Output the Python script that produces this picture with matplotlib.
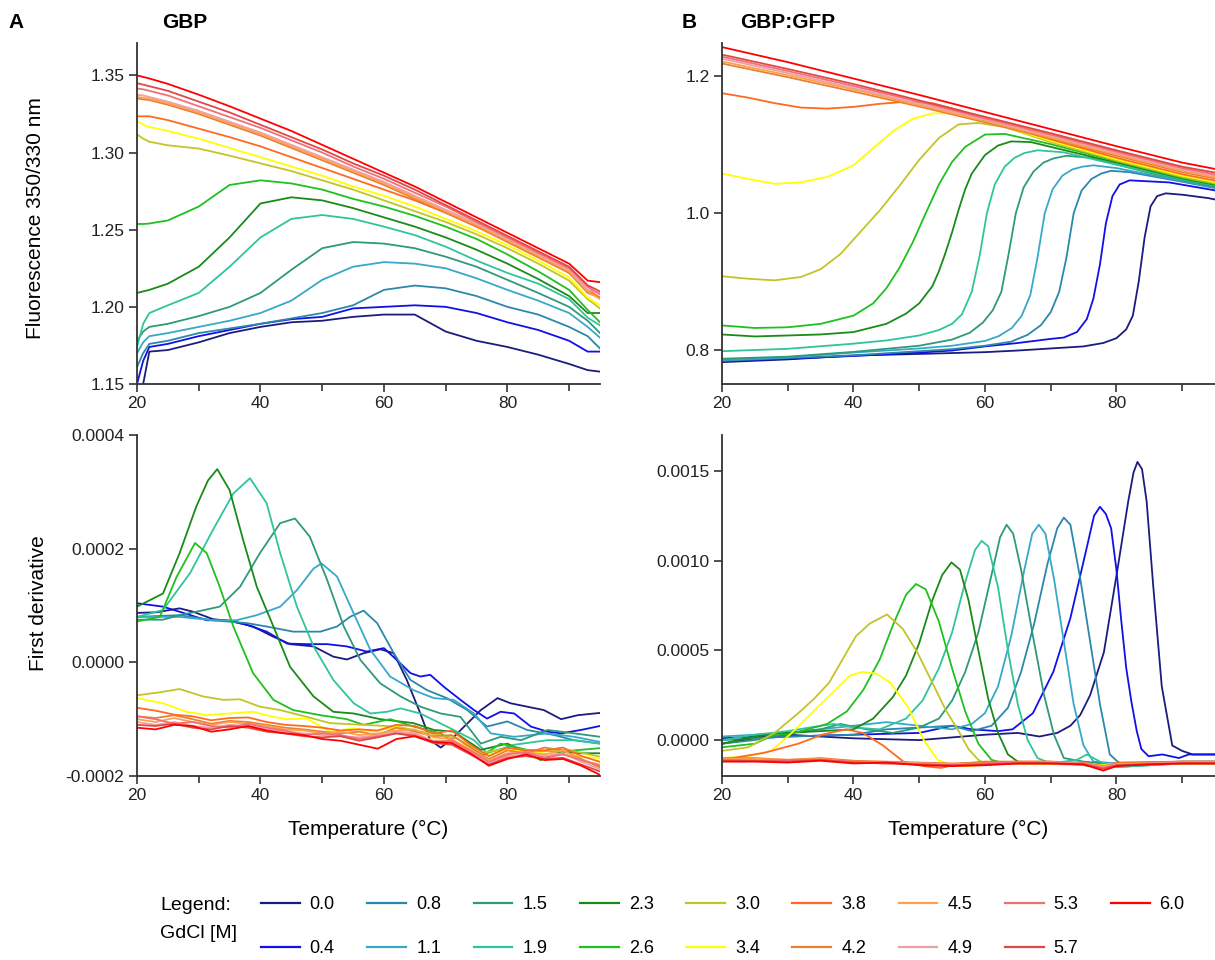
import matplotlib
matplotlib.use("Agg")
import matplotlib.pyplot as plt
from matplotlib.lines import Line2D

plt.rcParams['font.family'] = ['Liberation Sans', 'DejaVu Sans']
plt.rcParams['axes.unicode_minus'] = False

# GdCl concentrations and line colours
gdcl = ['0.0', '0.4', '0.8', '1.1', '1.5', '1.9', '2.3', '2.6', '3.0',
        '3.4', '3.8', '4.2', '4.5', '4.9', '5.3', '5.7', '6.0']
colors = ['#1b1b80', '#1010e8', '#2b88aa', '#38a8c8', '#2e9a7a', '#30c49c',
          '#1a8a1a', '#20c020', '#c4c428', '#ffff00', '#ff6a20', '#e88030',
          '#ffa050', '#f0a0a0', '#f07078', '#e04848', '#ff0000']

# ---- A, top: GBP fluorescence ratio (shared temperature grid)
gbp_temp = [20, 21, 22, 25, 30, 35, 40, 45, 50, 55, 60, 65, 70, 75, 80, 85, 90, 93, 95]
gbp_fluor = [
    [1.140, 1.150, 1.171, 1.172, 1.177, 1.183, 1.187, 1.190, 1.191, 1.1935, 1.195, 1.195, 1.184, 1.178, 1.174, 1.169, 1.163, 1.159, 1.158],
    [1.150, 1.165, 1.174, 1.176, 1.181, 1.185, 1.189, 1.192, 1.1935, 1.199, 1.200, 1.201, 1.200, 1.196, 1.190, 1.185, 1.178, 1.171, 1.171],
    [1.161, 1.170, 1.176, 1.178, 1.183, 1.186, 1.189, 1.1925, 1.196, 1.201, 1.211, 1.2138, 1.212, 1.207, 1.200, 1.195, 1.187, 1.181, 1.173],
    [1.170, 1.177, 1.181, 1.183, 1.187, 1.191, 1.196, 1.204, 1.2175, 1.226, 1.229, 1.228, 1.225, 1.2185, 1.211, 1.204, 1.196, 1.187, 1.180],
    [1.178, 1.184, 1.187, 1.189, 1.194, 1.200, 1.209, 1.224, 1.238, 1.242, 1.241, 1.238, 1.2325, 1.226, 1.2175, 1.209, 1.200, 1.191, 1.183],
    [1.174, 1.189, 1.196, 1.201, 1.209, 1.226, 1.245, 1.257, 1.2595, 1.257, 1.252, 1.2465, 1.239, 1.230, 1.222, 1.215, 1.205, 1.193, 1.188],
    [1.209, 1.210, 1.211, 1.215, 1.226, 1.245, 1.267, 1.271, 1.269, 1.264, 1.258, 1.252, 1.245, 1.237, 1.228, 1.218, 1.207, 1.196, 1.196],
    [1.2537, 1.2537, 1.254, 1.256, 1.265, 1.279, 1.282, 1.280, 1.276, 1.270, 1.265, 1.259, 1.252, 1.244, 1.234, 1.223, 1.211, 1.198, 1.190],
    [1.3118, 1.309, 1.307, 1.3047, 1.3026, 1.298, 1.293, 1.288, 1.282, 1.276, 1.269, 1.262, 1.255, 1.247, 1.238, 1.228, 1.217, 1.205, 1.199],
    [1.3205, 1.318, 1.3166, 1.314, 1.309, 1.303, 1.297, 1.291, 1.285, 1.278, 1.272, 1.265, 1.257, 1.249, 1.240, 1.230, 1.219, 1.206, 1.201],
    [1.3235, 1.3235, 1.3235, 1.321, 1.3155, 1.310, 1.304, 1.297, 1.290, 1.283, 1.276, 1.269, 1.261, 1.252, 1.243, 1.233, 1.222, 1.211, 1.206],
    [1.335, 1.3345, 1.334, 1.331, 1.325, 1.318, 1.311, 1.303, 1.295, 1.287, 1.279, 1.270, 1.261, 1.252, 1.242, 1.232, 1.222, 1.209, 1.206],
    [1.336, 1.3355, 1.335, 1.332, 1.326, 1.319, 1.312, 1.304, 1.296, 1.288, 1.280, 1.271, 1.262, 1.253, 1.243, 1.233, 1.223, 1.210, 1.205],
    [1.3375, 1.337, 1.336, 1.333, 1.327, 1.320, 1.313, 1.305, 1.297, 1.289, 1.281, 1.272, 1.263, 1.254, 1.244, 1.234, 1.224, 1.211, 1.209],
    [1.3415, 1.341, 1.340, 1.337, 1.330, 1.323, 1.316, 1.308, 1.300, 1.291, 1.283, 1.274, 1.265, 1.255, 1.245, 1.235, 1.225, 1.213, 1.208],
    [1.345, 1.344, 1.343, 1.340, 1.333, 1.326, 1.318, 1.310, 1.302, 1.293, 1.285, 1.276, 1.266, 1.256, 1.246, 1.236, 1.226, 1.214, 1.210],
    [1.350, 1.349, 1.348, 1.3445, 1.3375, 1.330, 1.322, 1.314, 1.305, 1.296, 1.287, 1.278, 1.268, 1.258, 1.248, 1.238, 1.228, 1.217, 1.216],
]

# ---- A, bottom: GBP first derivative (units of 1e-4)
gbp_red_temp = [20, 23, 26, 29, 32, 35, 38, 41, 44, 47, 50, 53, 56, 59, 62, 65, 68, 71, 74, 77, 80, 83, 86, 89, 92, 95]
gbp_deriv_temp = [
    [20, 23.1, 26.9, 29.1, 32.3, 35.6, 38.8, 42.1, 44.8, 48.6, 51.8, 54, 56.7, 59.4, 61.6, 63.7, 65.9, 67.5, 69.2, 70.8, 73, 75.7, 78.4, 80.5, 83.2, 85.9, 88.7, 91.4, 95],
    [20, 24.2, 26.9, 31.3, 34.5, 37.8, 41, 44.3, 47.5, 50.8, 54, 57.2, 60, 62.1, 64.3, 65.9, 67.5, 69.7, 72.4, 74.6, 76.7, 78.9, 81.1, 83.8, 86.5, 88.7, 91.9, 95],
    [20, 26.9, 32.3, 37.8, 41, 45.3, 49.7, 52.4, 54.5, 56.7, 58.9, 61.6, 64.3, 67, 70.2, 73.5, 76.7, 80, 83.2, 87.6, 90.8, 95],
    [20, 26.9, 32.3, 36.1, 39.4, 43.2, 45.9, 48.6, 49.9, 52.4, 55.1, 57.8, 61, 64.8, 68.1, 71.3, 74.6, 77.3, 81.1, 86.5, 90.8, 95],
    [20, 24.2, 26.9, 29.6, 33.4, 36.7, 39.9, 43.2, 45.6, 48, 50.8, 53.5, 56.2, 59.4, 62.7, 65.9, 69.2, 72.4, 75.7, 78.9, 82.2, 86.5, 90.8, 95],
    [20, 24.2, 28.6, 32.3, 35.6, 38.3, 41, 43.2, 45.9, 48.6, 51.8, 55.1, 57.8, 60.5, 62.7, 65.9, 70.2, 74.6, 76.7, 81.1, 86.5, 90.8, 95],
    [20, 24.2, 26.9, 29.6, 31.5, 33, 35, 37.2, 39.4, 42.1, 44.8, 48.6, 51.8, 55.1, 59.4, 64.8, 68.1, 71.3, 75.7, 80, 83.2, 85.4, 88.7, 91.9, 95],
    [20, 23.7, 26.4, 29.4, 31.3, 33.4, 35.6, 38.8, 42.1, 45.3, 49.7, 54, 56.7, 61, 64.8, 69.2, 73, 75.7, 78.9, 83.2, 88.7, 95],
    [20, 23.5, 26.9, 30.7, 34, 36.7, 39.9, 43.2, 47.5, 51.3, 56.7, 62.1, 67.5, 71.9, 75.7, 80, 85.4, 89.7, 95],
    [20, 24.2, 28, 31.3, 35, 38.8, 42.1, 44.3, 47.5, 51.3, 55.1, 58.3, 62.1, 65.9, 69.2, 73, 75.7, 80, 85.4, 89.7, 95],
    gbp_red_temp, gbp_red_temp, gbp_red_temp, gbp_red_temp, gbp_red_temp, gbp_red_temp, gbp_red_temp,
]
gbp_deriv = [
    [0.87, 0.88, 0.95, 0.89, 0.76, 0.72, 0.63, 0.45, 0.32, 0.28, 0.10, 0.05, 0.16, 0.23, 0.16, -0.31, -0.90, -1.37, -1.50, -1.37, -1.13, -0.84, -0.63, -0.72, -0.78, -0.84, -1.00, -0.93, -0.89],
    [1.04, 0.98, 0.89, 0.74, 0.74, 0.66, 0.54, 0.33, 0.32, 0.32, 0.28, 0.19, 0.25, 0.04, -0.19, -0.25, -0.22, -0.43, -0.66, -0.84, -0.99, -0.87, -0.90, -1.13, -1.22, -1.25, -1.19, -1.12],
    [0.80, 0.83, 0.74, 0.69, 0.63, 0.54, 0.54, 0.63, 0.80, 0.91, 0.69, 0.16, -0.31, -0.49, -0.63, -0.84, -1.13, -1.04, -1.19, -1.28, -1.37, -1.43],
    [0.80, 0.80, 0.74, 0.74, 0.83, 0.98, 1.27, 1.65, 1.74, 1.51, 0.86, 0.22, -0.25, -0.49, -0.63, -0.66, -0.90, -1.25, -1.31, -1.25, -1.31, -1.40],
    [0.75, 0.75, 0.83, 0.89, 0.98, 1.33, 1.92, 2.45, 2.53, 2.21, 1.45, 0.63, 0.04, -0.37, -0.60, -0.78, -0.90, -0.96, -1.43, -1.31, -1.37, -1.19, -1.25, -1.31],
    [0.80, 0.92, 1.57, 2.33, 2.97, 3.24, 2.80, 1.92, 0.98, 0.28, -0.31, -0.72, -0.90, -0.87, -0.81, -0.90, -1.13, -1.37, -1.60, -1.45, -1.37, -1.37, -1.43],
    [0.98, 1.21, 1.92, 2.74, 3.20, 3.40, 3.03, 2.15, 1.33, 0.63, -0.08, -0.60, -0.87, -0.90, -1.00, -1.07, -1.19, -1.22, -1.54, -1.43, -1.60, -1.72, -1.57, -1.60, -1.60],
    [0.72, 0.80, 1.50, 2.10, 1.92, 1.33, 0.63, -0.19, -0.66, -0.84, -0.93, -1.00, -1.10, -1.00, -1.13, -1.25, -1.54, -1.66, -1.43, -1.54, -1.57, -1.51],
    [-0.58, -0.53, -0.47, -0.60, -0.66, -0.65, -0.78, -0.84, -0.96, -1.07, -1.10, -1.13, -1.25, -1.34, -1.60, -1.51, -1.57, -1.54, -1.66],
    [-0.63, -0.72, -0.87, -0.93, -0.90, -0.87, -0.96, -1.00, -0.99, -1.22, -1.16, -1.22, -1.13, -1.34, -1.37, -1.45, -1.66, -1.54, -1.60, -1.63, -1.69],
    [-0.80, -0.85, -0.92, -0.95, -1.02, -0.98, -0.97, -1.05, -1.10, -1.12, -1.15, -1.20, -1.18, -1.20, -1.10, -1.12, -1.25, -1.20, -1.45, -1.65, -1.50, -1.55, -1.55, -1.50, -1.65, -1.75],
    [-0.95, -0.98, -0.93, -1.00, -1.08, -1.03, -1.05, -1.10, -1.15, -1.18, -1.22, -1.25, -1.22, -1.28, -1.15, -1.22, -1.30, -1.28, -1.50, -1.70, -1.55, -1.60, -1.50, -1.55, -1.70, -1.85],
    [-1.00, -1.05, -0.98, -1.05, -1.10, -1.05, -1.08, -1.12, -1.18, -1.20, -1.25, -1.22, -1.28, -1.25, -1.20, -1.18, -1.32, -1.35, -1.55, -1.72, -1.60, -1.58, -1.62, -1.55, -1.72, -1.80],
    [-1.05, -1.10, -1.05, -1.12, -1.15, -1.10, -1.12, -1.18, -1.22, -1.25, -1.28, -1.30, -1.32, -1.28, -1.22, -1.25, -1.38, -1.40, -1.58, -1.78, -1.65, -1.62, -1.65, -1.60, -1.75, -1.88],
    [-0.95, -1.00, -1.08, -1.05, -1.12, -1.15, -1.08, -1.15, -1.20, -1.28, -1.25, -1.28, -1.35, -1.30, -1.25, -1.28, -1.40, -1.38, -1.55, -1.75, -1.62, -1.58, -1.68, -1.62, -1.72, -1.82],
    [-1.10, -1.12, -1.08, -1.15, -1.18, -1.12, -1.15, -1.22, -1.25, -1.30, -1.32, -1.30, -1.38, -1.32, -1.25, -1.30, -1.42, -1.45, -1.62, -1.80, -1.68, -1.65, -1.70, -1.68, -1.80, -1.92],
    [-1.15, -1.18, -1.10, -1.12, -1.22, -1.18, -1.12, -1.20, -1.25, -1.28, -1.35, -1.38, -1.45, -1.52, -1.35, -1.30, -1.40, -1.42, -1.60, -1.82, -1.70, -1.62, -1.72, -1.70, -1.82, -1.98],
]

# ---- B, top: GBP:GFP fluorescence ratio
gfp_red_temp = [20, 30, 40, 50, 60, 70, 80, 90, 97]
gfp_fluor_temp = [
    [20, 30, 40, 50, 60, 65, 70, 75, 78, 80, 81.5, 82.5, 83.4, 84.3, 85.2, 86.2, 87.5, 90, 94, 97],
    [20, 30, 40, 50, 55, 60, 65, 70, 72, 74, 75.5, 76.5, 77.5, 78.4, 79.4, 80.5, 82, 84, 88, 97],
    [20, 30, 40, 50, 55, 60, 64, 66.5, 68.5, 70, 71.3, 72.4, 73.5, 74.7, 76.2, 77.7, 79.2, 82, 90, 97],
    [20, 30, 40, 50, 55, 60, 62.1, 64.1, 65.6, 66.9, 68, 69.1, 70.3, 71.8, 73.3, 74.8, 76.5, 80, 90, 97],
    [20, 30, 40, 50, 55, 57.7, 59.7, 61.2, 62.5, 63.6, 64.7, 65.9, 67.4, 68.9, 70.4, 72.4, 76, 85, 97],
    [20, 30, 40, 45, 50, 53, 55, 56.5, 58, 59.2, 60.3, 61.5, 63, 64.5, 66, 68, 72, 80, 90, 97],
    [20, 25, 30, 35, 40, 45, 48, 50, 52, 53, 54, 55, 56, 57, 58, 60, 62, 64, 67, 70, 80, 90, 97],
    [20, 25, 30, 35, 40, 43, 45, 47, 49, 51, 53, 55, 57, 60, 63, 70, 80, 90, 97],
    [20, 24, 28, 32, 35, 38, 41, 44, 47, 50, 53, 56, 59, 63, 70, 80, 90, 97],
    [20, 24, 28, 32, 36, 40, 43, 46, 49, 52, 55, 58, 62, 70, 80, 90, 97],
    [20, 24, 28, 32, 36, 40, 44, 48, 52, 56, 60, 70, 80, 90, 97],
    gfp_red_temp, gfp_red_temp, gfp_red_temp, gfp_red_temp, gfp_red_temp, gfp_red_temp,
]
gfp_fluor = [
    [0.782, 0.786, 0.7917, 0.794, 0.7966, 0.799, 0.802, 0.805, 0.810, 0.817, 0.830, 0.850, 0.900, 0.965, 1.010, 1.025, 1.029, 1.027, 1.022, 1.016],
    [0.784, 0.787, 0.791, 0.796, 0.799, 0.805, 0.810, 0.816, 0.818, 0.826, 0.845, 0.875, 0.925, 0.985, 1.025, 1.042, 1.048, 1.047, 1.045, 1.030],
    [0.784, 0.788, 0.792, 0.798, 0.801, 0.806, 0.812, 0.822, 0.836, 0.855, 0.885, 0.935, 1.000, 1.033, 1.050, 1.058, 1.062, 1.060, 1.046, 1.033],
    [0.785, 0.789, 0.796, 0.802, 0.806, 0.813, 0.820, 0.832, 0.850, 0.880, 0.935, 1.000, 1.035, 1.055, 1.064, 1.068, 1.070, 1.066, 1.047, 1.034],
    [0.787, 0.790, 0.797, 0.806, 0.815, 0.825, 0.840, 0.858, 0.885, 0.940, 1.000, 1.038, 1.061, 1.074, 1.080, 1.084, 1.081, 1.059, 1.035],
    [0.798, 0.8015, 0.809, 0.8137, 0.821, 0.829, 0.838, 0.852, 0.885, 0.938, 1.000, 1.042, 1.068, 1.081, 1.088, 1.092, 1.089, 1.071, 1.050, 1.037],
    [0.8225, 0.8196, 0.821, 0.8225, 0.826, 0.838, 0.853, 0.868, 0.893, 0.915, 0.942, 0.972, 1.005, 1.035, 1.058, 1.085, 1.099, 1.105, 1.104, 1.097, 1.074, 1.051, 1.038],
    [0.8357, 0.832, 0.833, 0.838, 0.850, 0.868, 0.890, 0.920, 0.957, 1.000, 1.042, 1.075, 1.097, 1.115, 1.116, 1.101, 1.076, 1.052, 1.039],
    [0.9076, 0.904, 0.9017, 0.9066, 0.918, 0.940, 0.972, 1.004, 1.040, 1.078, 1.110, 1.130, 1.132, 1.126, 1.104, 1.077, 1.053, 1.040],
    [1.058, 1.050, 1.043, 1.045, 1.053, 1.070, 1.095, 1.120, 1.138, 1.146, 1.146, 1.140, 1.130, 1.106, 1.079, 1.055, 1.042],
    [1.1755, 1.169, 1.161, 1.1545, 1.153, 1.1555, 1.160, 1.163, 1.161, 1.151, 1.137, 1.108, 1.081, 1.057, 1.044],
    [1.219, 1.199, 1.178, 1.156, 1.133, 1.109, 1.084, 1.060, 1.047],
    [1.222, 1.202, 1.181, 1.158, 1.135, 1.111, 1.086, 1.062, 1.049],
    [1.226, 1.205, 1.183, 1.160, 1.137, 1.113, 1.088, 1.064, 1.051],
    [1.229, 1.208, 1.186, 1.163, 1.139, 1.115, 1.090, 1.066, 1.053],
    [1.232, 1.211, 1.189, 1.165, 1.141, 1.117, 1.092, 1.068, 1.056],
    [1.243, 1.221, 1.197, 1.173, 1.148, 1.123, 1.098, 1.074, 1.061],
]

# ---- B, bottom: GBP:GFP first derivative (units of 1e-4)
gfp_red_dtemp = [20, 25, 30, 35, 40, 45, 50, 55, 60, 65, 70, 75, 78, 80, 85, 90, 97]
gfp_deriv_temp = [
    [20, 30, 40, 50, 60, 65, 68.3, 71, 73, 74.5, 76, 78.1, 80.2, 81.8, 82.6, 83.2, 83.9, 84.6, 85.6, 86.9, 88.5, 90, 91.6, 97],
    [20, 25, 30, 40, 50, 55, 58, 62, 64.2, 67.3, 70.4, 73, 75.6, 76.6, 77.5, 78.4, 79.2, 80, 80.7, 81.5, 82.3, 83.1, 83.8, 84.9, 87, 89.5, 91, 97],
    [20, 30, 40, 45, 50, 55, 58, 61, 63.5, 65.5, 67.5, 69.5, 71, 72, 73, 74.5, 76, 77.5, 79, 80.5, 83, 90, 97],
    [20, 30, 40, 45, 50, 55, 58, 60, 62, 64, 66, 67.2, 68.2, 69.2, 70.5, 72, 73.5, 75, 76.5, 80, 90, 97],
    [20, 25, 30, 35, 38, 42, 46, 50, 53, 55, 57, 59, 61, 62.3, 63.3, 64.3, 65.5, 67.3, 69, 70.5, 72, 75, 78, 80, 90, 97],
    [20, 25, 30, 35, 37, 40, 44, 48, 50.5, 53, 55, 57, 58.5, 59.5, 60.5, 62, 63.5, 65, 66.5, 68, 70, 74, 75.5, 78, 80, 90, 97],
    [20, 25, 30, 35, 40, 43, 46, 48, 50, 52, 53.5, 54.9, 56.2, 57.5, 59, 60.5, 62, 63.5, 65, 67, 72, 78, 80, 90, 97],
    [20, 25, 28, 30, 33, 36, 39, 41.5, 44, 46, 48, 49.5, 51, 53, 55, 57, 59, 61, 63, 65, 70, 78, 80, 90, 97],
    [20, 24, 28, 31.6, 34, 36.3, 38.5, 40.4, 42.5, 45.1, 47.5, 49.7, 52, 54, 56, 57.5, 59, 60, 65, 78, 80, 90, 97],
    [20, 24, 27.5, 30.6, 34.2, 37.8, 39.5, 41.4, 43.5, 45.6, 48.2, 50.7, 52.8, 55, 57, 59, 62, 70, 78, 80, 90, 97],
    [20, 26.5, 31.6, 35.2, 38.9, 41.4, 44.5, 47.6, 50.7, 53.3, 56.4, 60, 70, 78, 80, 90, 97],
    gfp_red_dtemp, gfp_red_dtemp, gfp_red_dtemp, gfp_red_dtemp, gfp_red_dtemp, gfp_red_dtemp,
]
gfp_deriv = [
    [0.1, 0.3, 0.1, 0.0, 0.3, 0.4, 0.2, 0.4, 0.8, 1.4, 2.5, 4.9, 9.6, 13.3, 14.9, 15.5, 15.1, 13.3, 8.6, 3.0, -0.3, -0.6, -0.8, -0.8],
    [-0.2, 0.1, 0.2, 0.3, 0.4, 0.8, 0.6, 0.5, 0.6, 1.5, 3.8, 6.8, 10.9, 12.5, 13.0, 12.6, 11.8, 9.5, 6.8, 4.0, 2.1, 0.5, -0.5, -0.9, -0.8, -1.0, -0.8, -0.8],
    [0.0, 0.2, 0.3, 0.6, 0.7, 0.8, 0.5, 0.8, 1.8, 3.8, 6.5, 9.8, 11.8, 12.4, 12.0, 9.0, 5.5, 2.0, -0.8, -1.3, -1.3, -1.2, -1.2],
    [0.2, 0.4, 0.8, 1.0, 0.8, 0.6, 0.9, 1.5, 3.0, 5.8, 9.5, 11.5, 12.0, 11.5, 9.0, 5.5, 2.0, -0.3, -1.2, -1.3, -1.2, -1.2],
    [-0.2, 0.0, 0.4, 0.6, 0.9, 0.6, 0.4, 0.7, 1.2, 2.2, 3.8, 6.0, 9.2, 11.3, 12.0, 11.5, 9.5, 5.8, 2.5, 0.3, -1.0, -1.2, -1.3, -1.5, -1.3, -1.2],
    [0.0, 0.3, 0.5, 0.8, 0.9, 0.7, 0.6, 1.2, 2.2, 4.0, 6.0, 8.8, 10.6, 11.1, 10.8, 8.5, 5.0, 2.0, 0.0, -1.0, -1.3, -1.1, -0.8, -1.3, -1.5, -1.3, -1.3],
    [-0.2, 0.2, 0.4, 0.5, 0.6, 1.2, 2.4, 3.6, 5.4, 7.8, 9.2, 9.9, 9.5, 7.8, 5.0, 2.3, 0.4, -0.8, -1.2, -1.3, -1.3, -1.5, -1.4, -1.3, -1.3],
    [-0.4, -0.2, 0.3, 0.3, 0.6, 0.9, 1.6, 2.8, 4.5, 6.4, 8.1, 8.7, 8.4, 6.6, 4.0, 1.6, -0.2, -1.1, -1.3, -1.3, -1.3, -1.4, -1.3, -1.3, -1.3],
    [-0.6, -0.4, 0.4, 1.5, 2.3, 3.2, 4.6, 5.8, 6.5, 7.0, 6.2, 4.9, 3.2, 1.7, 0.5, -0.5, -1.1, -1.3, -1.3, -1.4, -1.3, -1.3, -1.3],
    [-1.0, -0.9, -0.6, 0.4, 1.7, 3.0, 3.6, 3.8, 3.7, 3.2, 1.9, 0.0, -1.1, -1.4, -1.45, -1.4, -1.3, -1.3, -1.4, -1.3, -1.3, -1.3],
    [-1.1, -0.7, -0.2, 0.3, 0.6, 0.4, -0.3, -1.2, -1.45, -1.55, -1.3, -1.2, -1.2, -1.5, -1.25, -1.2, -1.2],
    [-1.0, -1.0, -1.1, -1.0, -1.15, -1.2, -1.25, -1.3, -1.25, -1.2, -1.2, -1.25, -1.45, -1.3, -1.25, -1.2, -1.2],
    [-1.05, -1.05, -1.1, -1.05, -1.2, -1.25, -1.3, -1.35, -1.3, -1.25, -1.25, -1.3, -1.5, -1.35, -1.3, -1.25, -1.25],
    [-1.1, -1.1, -1.15, -1.1, -1.25, -1.3, -1.3, -1.35, -1.35, -1.3, -1.25, -1.3, -1.5, -1.35, -1.3, -1.25, -1.25],
    [-1.1, -1.15, -1.1, -1.1, -1.2, -1.25, -1.35, -1.4, -1.3, -1.25, -1.3, -1.3, -1.55, -1.4, -1.3, -1.3, -1.3],
    [-1.15, -1.15, -1.2, -1.1, -1.25, -1.3, -1.35, -1.4, -1.35, -1.3, -1.3, -1.35, -1.6, -1.4, -1.35, -1.3, -1.3],
    [-1.2, -1.2, -1.25, -1.15, -1.3, -1.25, -1.4, -1.45, -1.4, -1.3, -1.3, -1.35, -1.7, -1.45, -1.35, -1.3, -1.3],
]

W, H = 1215, 960
fig = plt.figure(figsize=(W / 100, H / 100), dpi=100)


def rect(x0, y0, x1, y1):
    return [x0 / W, 1 - y1 / H, (x1 - x0) / W, (y1 - y0) / H]


def style(ax, ylim, yticks, fmt):
    ax.set_xlim(20, 95)
    ax.set_ylim(*ylim)
    ax.set_xticks([20, 40, 60, 80])
    ax.set_xticks([30, 50, 70, 90], minor=True)
    ax.set_yticks(yticks)
    ax.set_yticklabels([fmt.format(v) for v in yticks])
    for s in ['top', 'right']:
        ax.spines[s].set_visible(False)
    for s in ['left', 'bottom']:
        ax.spines[s].set_color('#333333')
        ax.spines[s].set_linewidth(1.3)
    ax.tick_params(which='major', direction='out', length=6, width=1.2,
                   color='#333333', labelsize=12.5, labelcolor='#222222', pad=3)
    ax.tick_params(which='minor', direction='out', length=5, width=1.2, color='#333333')


ax_tl = fig.add_axes(rect(137, 43, 600, 384))
ax_tr = fig.add_axes(rect(722, 43, 1215, 384))
ax_bl = fig.add_axes(rect(137, 435, 600, 776))
ax_br = fig.add_axes(rect(722, 435, 1215, 776))

lw = 1.3
handles = []
for i, c in enumerate(gdcl):
    ax_tl.plot(gbp_temp, gbp_fluor[i], color=colors[i], lw=lw)
    ax_bl.plot(gbp_deriv_temp[i], [v * 1e-4 for v in gbp_deriv[i]], color=colors[i], lw=lw)
    ax_tr.plot(gfp_fluor_temp[i], gfp_fluor[i], color=colors[i], lw=lw)
    ax_br.plot(gfp_deriv_temp[i], [v * 1e-4 for v in gfp_deriv[i]], color=colors[i], lw=lw)
    handles.append(Line2D([], [], color=colors[i], lw=1.6))

style(ax_tl, (1.15, 1.371), [1.15, 1.20, 1.25, 1.30, 1.35], '{:.2f}')
style(ax_tr, (0.75, 1.249), [0.8, 1.0, 1.2], '{:.1f}')
style(ax_bl, (-0.0002, 0.0004), [-0.0002, 0.0, 0.0002, 0.0004], '{:.4f}')
style(ax_br, (-0.0002, 0.0017), [0.0, 0.0005, 0.0010, 0.0015], '{:.4f}')

for ax in (ax_bl, ax_br):
    ax.set_xlabel('Temperature (\u00b0C)', fontsize=15, labelpad=12)

fig.text(36 / W, 1 - 218 / H, 'Fluorescence 350/330 nm', rotation=90,
         ha='center', va='center', fontsize=15)
fig.text(38 / W, 1 - 603 / H, 'First derivative', rotation=90,
         ha='center', va='center', fontsize=15)

fig.text(8 / W, 1 - 23 / H, 'A', fontsize=15, fontweight='bold', va='center')
fig.text(162 / W, 1 - 23 / H, 'GBP', fontsize=15, fontweight='bold', va='center')
fig.text(682 / W, 1 - 23 / H, 'B', fontsize=15, fontweight='bold', va='center')
fig.text(740 / W, 1 - 23 / H, 'GBP:GFP', fontsize=15, fontweight='bold', va='center')

fig.text(160 / W, 1 - 906 / H, 'Legend:', fontsize=14, va='center')
fig.text(160 / W, 1 - 934 / H, 'GdCl [M]', fontsize=14, va='center')
fig.legend(handles, gdcl, ncol=9, loc='upper left',
           bbox_to_anchor=(261 / W, 1 - 896 / H), frameon=False,
           fontsize=13, handlelength=2.15, handletextpad=0.55,
           columnspacing=1.8, labelspacing=1.5, borderpad=0, borderaxespad=0)

fig.savefig('out.png', dpi=100)
